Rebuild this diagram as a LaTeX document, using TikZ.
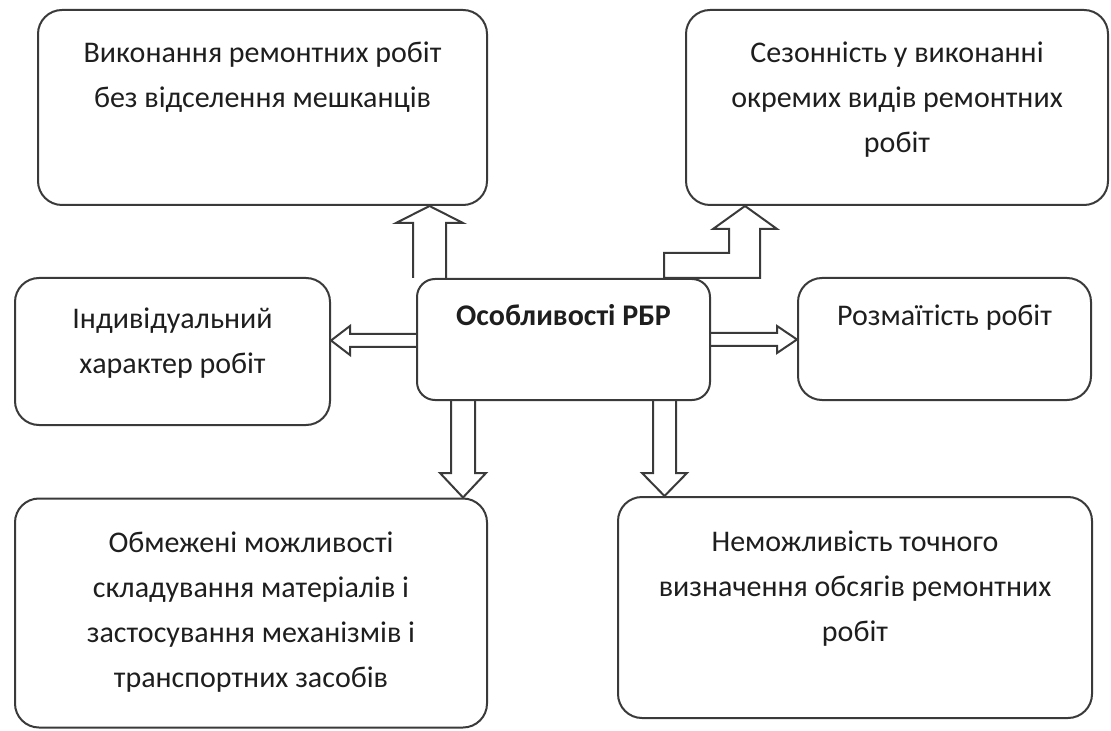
\documentclass[tikz,border=0pt]{standalone}
\usepackage{fontspec}
\setmainfont{Carlito}
\definecolor{linegray}{HTML}{3A3A3A}
\definecolor{textgray}{HTML}{1E1E1E}
% text block sitting at the top of a box: [pad]{width}{height}{lines}
\newcommand{\boxtext}[4][10.5pt]{\begin{minipage}[c][#3][t]{#2}\centering\vspace*{#1}\strut#4\end{minipage}}

\begin{document}
\begin{tikzpicture}[
    x=0.5pt, y=-0.5pt,
    featbox/.style={rectangle, draw=linegray, line width=1pt, rounded corners=12pt, inner sep=0pt, text=textgray, font=\fontsize{15}{22.5}\selectfont},
    mainbox/.style={featbox, rounded corners=9pt, font=\fontsize{15}{22.5}\selectfont\bfseries},
    blockarrow/.style={draw=linegray, line width=1pt, line join=miter},
]
\useasboundingbox (0,0) rectangle (1111,731);

\node[mainbox] (ctr) at (563.5,339.5) {\boxtext[7.5pt]{146.5pt}{60.5pt}{Особливості РБР}};
\node[featbox] (tl) at (262.5,107.5) {\boxtext{224.5pt}{97.5pt}{Виконання ремонтних робіт\\без відселення мешканців}};
\node[featbox] (tr) at (897,107.5) {\boxtext{211pt}{97.5pt}{Сезонність у виконанні\\окремих видів ремонтних\\робіт}};
\node[featbox] (ml) at (172.5,351.5) {\boxtext[9.75pt]{157.5pt}{73.5pt}{Індивідуальний\\характер робіт}};
\node[featbox] (mr) at (944.5,339) {\boxtext[7.75pt]{146.5pt}{61pt}{Розмаїтість робіт}};
\node[featbox] (bl) at (251,613) {\boxtext[11.25pt]{236pt}{114.5pt}{Обмежені можливості\\складування матеріалів і\\застосування механізмів і\\транспортних засобів}};
\node[featbox] (br) at (855,607.5) {\boxtext[11.5pt]{237pt}{110.5pt}{Неможливість точного\\визначення обсягів ремонтних\\робіт}};

% block arrows out of the centre box
\draw[blockarrow] (413,0 |- ctr.north) -- (413,223) -- (396,223) -- (429.5,0 |- tl.south)
    -- (463,223) -- (446,223) -- (446,0 |- ctr.north);
\draw[blockarrow] (664,0 |- ctr.north) -- (664,253) -- (729,253) -- (729,229) -- (713,229)
    -- (745,0 |- tr.south) -- (777,229) -- (760,229) -- (760,0 |- ctr.north) -- cycle;
\draw[blockarrow] (ctr.west |- 0,334) -- (350,334) -- (350,326) -- (ml.east |- 0,340.5)
    -- (350,355) -- (350,347) -- (ctr.west |- 0,347);
\draw[blockarrow] (ctr.east |- 0,333) -- (777,333) -- (777,326) -- (mr.west |- 0,339.5)
    -- (777,353) -- (777,346) -- (ctr.east |- 0,346);
\draw[blockarrow] (451,0 |- ctr.south) -- (451,473) -- (440,473) -- (463,0 |- bl.north)
    -- (486,473) -- (475,473) -- (475,0 |- ctr.south);
\draw[blockarrow] (653,0 |- ctr.south) -- (653,473) -- (642,473) -- (664.5,0 |- br.north)
    -- (687,473) -- (676,473) -- (676,0 |- ctr.south);
\end{tikzpicture}
\end{document}
